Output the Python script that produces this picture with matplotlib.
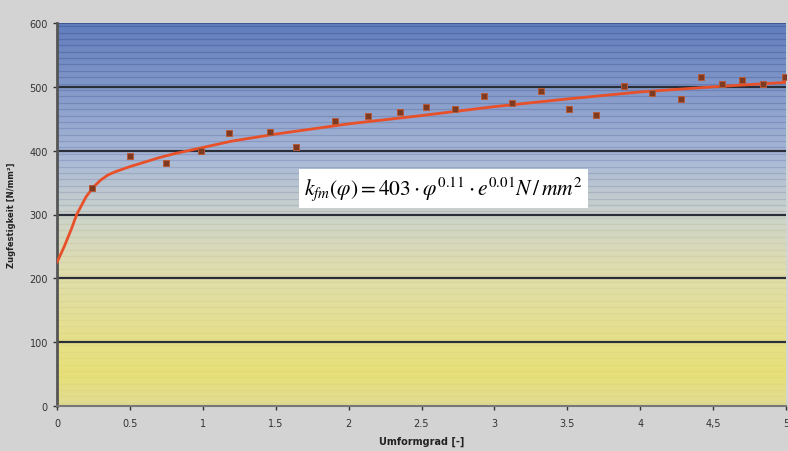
import numpy as np
import matplotlib
matplotlib.use("Agg")
import matplotlib.pyplot as plt
from matplotlib.colors import LinearSegmentedColormap

plt.rcParams["mathtext.fontset"] = "stix"

# Measured data points (Umformgrad, Zugfestigkeit)
phi_pts = [0.24, 0.50, 0.75, 0.99, 1.18, 1.46, 1.64, 1.91, 2.13, 2.35, 2.53, 2.73,
           2.93, 3.12, 3.32, 3.51, 3.70, 3.89, 4.08, 4.28, 4.42, 4.56, 4.70, 4.84, 4.99]
rm_pts = [342, 392, 380, 399, 428, 429, 405, 447, 455, 460, 468, 465,
          485, 474, 493, 465, 456, 502, 491, 481, 516, 504, 511, 505, 515]

# Trend line
phi_fit = [0, 0.05, 0.1, 0.135, 0.2, 0.25, 0.3, 0.35, 0.4, 0.5, 0.6, 0.7, 0.8, 1.0, 1.2,
           1.5, 2.0, 2.5, 3.0, 3.5, 4.0, 4.5, 5.0]
rm_fit = [225, 250, 278, 300, 328, 343, 354, 362, 367, 375, 382, 389, 395, 405, 415,
          426, 442, 455, 469, 481, 492, 500, 507]

x_ticks = [0, 0.5, 1, 1.5, 2, 2.5, 3, 3.5, 4, 4.5, 5]
x_ticklabels = ["0", "0.5", "1", "1.5", "2", "2.5", "3", "3.5", "4", "4,5", "5"]
y_ticks = [0, 100, 200, 300, 400, 500, 600]

fig = plt.figure(figsize=(7.88, 4.52), dpi=100)
fig.patch.set_facecolor("#d3d3d3")
ax = fig.add_axes([57/788, 45/452, 729/788, 383/452])
ax.set_xlim(0, 5)
ax.set_ylim(0, 600)

# Background gradient (yellow bottom -> blue top)
stops = [(0.0, (0.88, 0.86, 0.58)),
         (0.08, (0.91, 0.88, 0.47)),
         (0.35, (0.88, 0.87, 0.68)),
         (0.50, (0.80, 0.83, 0.80)),
         (0.65, (0.66, 0.72, 0.84)),
         (0.80, (0.54, 0.62, 0.80)),
         (1.0, (0.38, 0.49, 0.74))]
cmap = LinearSegmentedColormap.from_list("bg", stops)
grad = np.linspace(0, 1, 600).reshape(-1, 1)
ax.imshow(grad, cmap=cmap, aspect="auto", extent=[0, 5, 0, 600], origin="lower", zorder=0)
# faint banding stripes
for yy in np.arange(5, 600, 10):
    a = 0.04 + 0.22 * (yy / 600) ** 1.5
    ax.axhline(yy, color="#1d2f6e" if yy > 300 else "#8a8040", lw=0.9, alpha=a, zorder=0.5)

for yy in y_ticks[1:-1]:
    ax.axhline(yy, color="#2a2e38", lw=1.6, zorder=1)
ax.axhline(600, color="#3c4f86", lw=1.2, zorder=1)

ax.plot(phi_fit, rm_fit, color="#e8502a", lw=2, zorder=3, solid_capstyle="round",
        solid_joinstyle="round")
ax.scatter(phi_pts, rm_pts, marker="s", s=15, color="#7f3a22", edgecolors="#b85a38",
           linewidths=0.7, zorder=4)

ax.text(2.65, 341, r"$k_{fm}(\varphi) = 403\cdot\varphi^{0.11}\cdot e^{0.01}N\,/\,mm^2$",
        fontsize=15.5, ha="center", va="center", zorder=5,
        bbox=dict(boxstyle="square,pad=0.25", facecolor="white", edgecolor="none"))

for s in ["top", "right"]:
    ax.spines[s].set_visible(False)
ax.spines["left"].set_color("#555555")
ax.spines["left"].set_linewidth(2)
ax.spines["bottom"].set_color("#777777")
ax.spines["bottom"].set_linewidth(1.5)

ax.set_xticks(x_ticks)
ax.set_xticklabels(x_ticklabels)
ax.set_yticks(y_ticks)
ax.tick_params(axis="both", labelsize=7, colors="#333333", length=3, width=1)
ax.tick_params(axis="x", pad=6)
ax.set_xlabel("Umformgrad [-]", fontsize=7, fontweight="bold", color="#222222", labelpad=5)
ax.set_ylabel("Zugfestigkeit [N/mm²]", fontsize=6, fontweight="bold", color="#222222", labelpad=10)

fig.savefig("out.png", dpi=100, facecolor=fig.get_facecolor())
